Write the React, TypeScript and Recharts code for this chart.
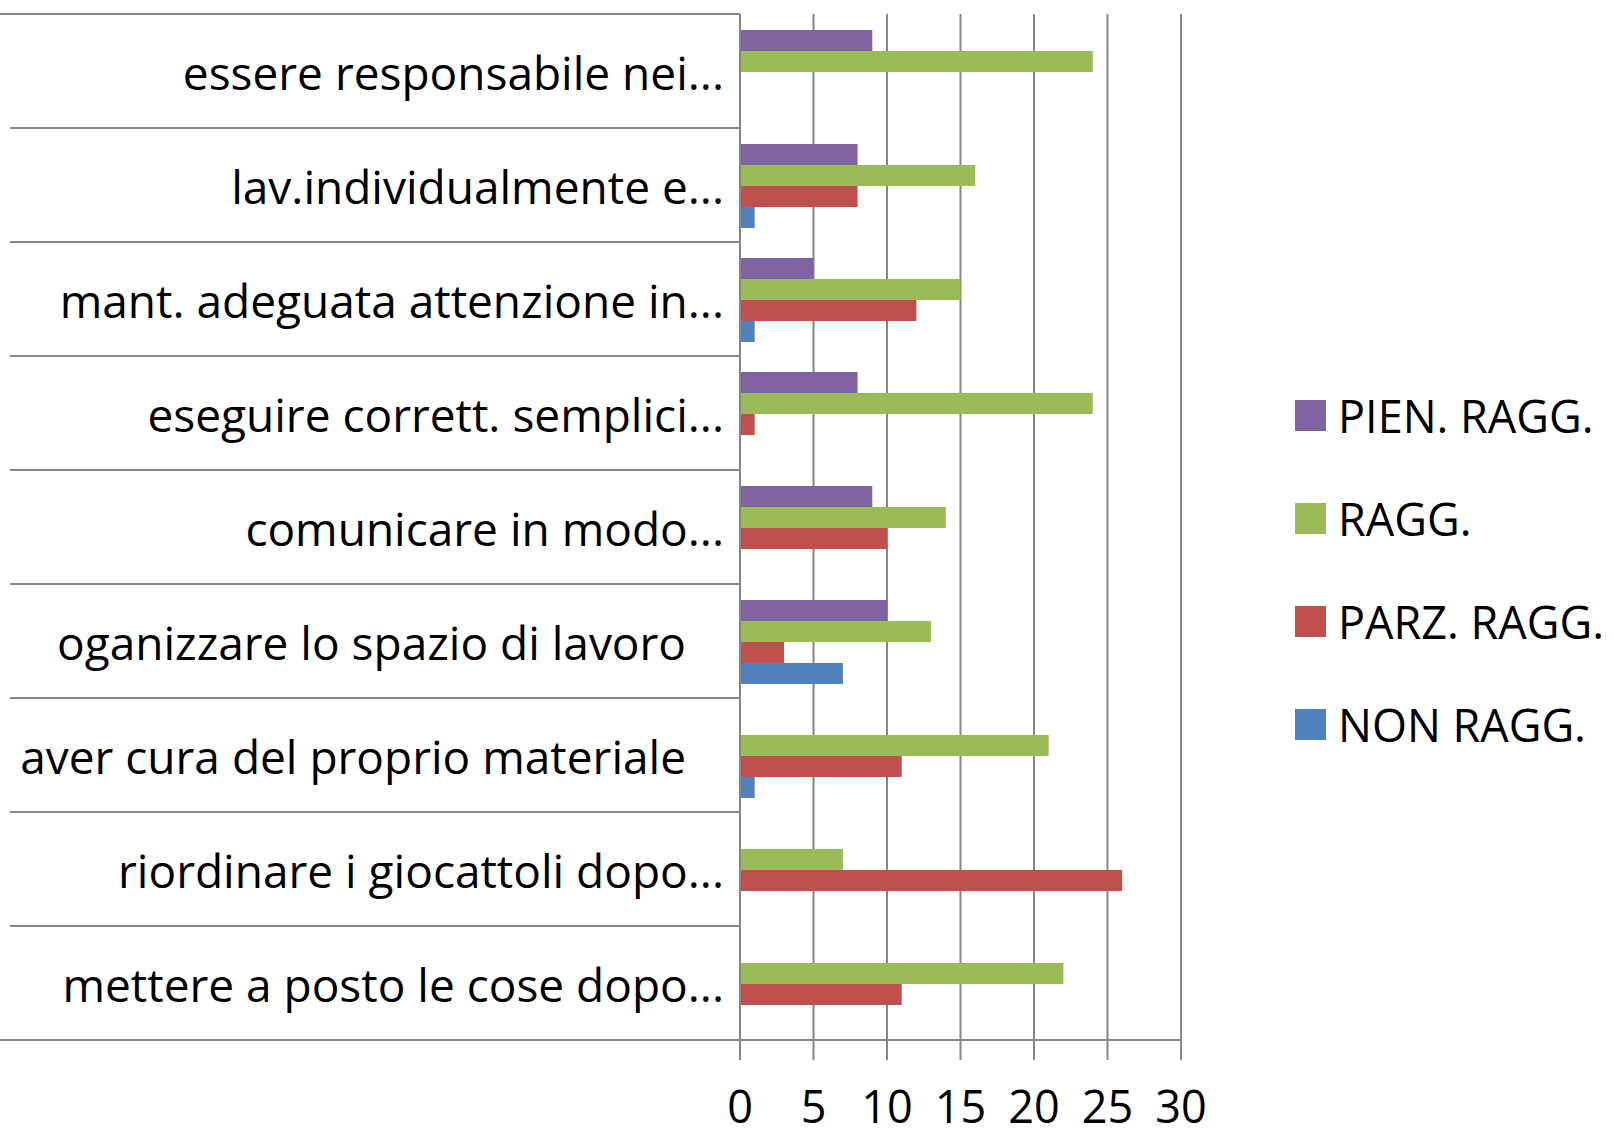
import React from 'react';
import { BarChart, Bar, XAxis, YAxis, CartesianGrid } from 'recharts';

const categories = [
    'essere responsabile nei...',
    'lav.individualmente e...',
    'mant. adeguata attenzione in...',
    'eseguire corrett. semplici...',
    'comunicare in modo...',
    'oganizzare lo spazio di lavoro',
    'aver cura del proprio materiale',
    'riordinare i giocattoli dopo...',
    'mettere a posto le cose dopo...',
];

const pienRagg = [9, 8, 5, 8, 9, 10, 0, 0, 0];
const ragg = [24, 16, 15, 24, 14, 13, 21, 7, 22];
const parzRagg = [0, 8, 12, 1, 10, 3, 11, 26, 11];
const nonRagg = [0, 1, 1, 0, 0, 7, 1, 0, 0];

const xTicks = [0, 5, 10, 15, 20, 25, 30];

const series = [
    { key: 'pien', name: 'PIEN. RAGG.', color: '#8064A2' },
    { key: 'ragg', name: 'RAGG.', color: '#9BBB59' },
    { key: 'parz', name: 'PARZ. RAGG.', color: '#C0504D' },
    { key: 'non', name: 'NON RAGG.', color: '#4F81BD' },
];

const data = categories.map((name, i) => ({
    name,
    pien: pienRagg[i],
    ragg: ragg[i],
    parz: parzRagg[i],
    non: nonRagg[i],
}));

const FONT = '"Open Sans", sans-serif';
const GRID = '#868686';

const CategoryTick = (props: any) => {
    const { x, y, payload, index } = props;
    const half = payload.offset ?? 57;
    const axisX = x + 16;
    const label: string = payload.value;
    const textX = label.endsWith('...') ? x : x - 38;
    const last = index === categories.length - 1;
    return (
        <g>
            <line x1={index === 0 ? 0 : 10} x2={axisX} y1={y - half} y2={y - half} stroke={GRID} strokeWidth={2} />
            {last && <line x1={0} x2={axisX} y1={y + half} y2={y + half} stroke={GRID} strokeWidth={2} />}
            <text x={textX} y={y} dy={19} textAnchor="end" fontFamily={FONT} fontSize={46} fill="#000">
                {label}
            </text>
        </g>
    );
};

const ValueTick = (props: any) => {
    const { x, y, payload } = props;
    return (
        <text x={x} y={y} dy={63} textAnchor="middle" fontFamily={FONT} fontSize={45} fill="#000">
            {payload.value}
        </text>
    );
};

// legend sits to the right of the plot, outside recharts' layout
const LegendBox = () => (
    <div style={{ position: 'absolute', left: 1295, top: 364, fontFamily: FONT, fontSize: 45, color: '#000' }}>
        {series.map((s) => (
            <div key={s.key} style={{ display: 'flex', alignItems: 'center', height: 103 }}>
                <div style={{ width: 31, height: 31, background: s.color, marginRight: 12 }} />
                <span style={{ whiteSpace: 'nowrap' }}>{s.name}</span>
            </div>
        ))}
    </div>
);

export default function App() {
    return (
        <div style={{ position: 'absolute', left: 0, top: 0, width: 1614, height: 1137, background: '#fff' }}>
            <BarChart
                width={1614}
                height={1137}
                data={data}
                layout="vertical"
                margin={{ top: 14, right: 433, left: 0, bottom: 0 }}
                barCategoryGap={16}
                barGap={0}
            >
                <CartesianGrid horizontal={false} stroke={GRID} strokeWidth={2} />
                <XAxis
                    type="number"
                    domain={[0, 30]}
                    ticks={xTicks}
                    height={97}
                    tickSize={20}
                    tickMargin={0}
                    tickLine={{ stroke: GRID, strokeWidth: 2 }}
                    axisLine={{ stroke: GRID, strokeWidth: 2 }}
                    tick={<ValueTick />}
                    interval={0}
                />
                <YAxis
                    type="category"
                    dataKey="name"
                    width={740}
                    tickSize={0}
                    tickMargin={16}
                    tickLine={false}
                    axisLine={{ stroke: GRID, strokeWidth: 2 }}
                    tick={<CategoryTick />}
                    interval={0}
                />
                {series.map((s) => (
                    <Bar key={s.key} dataKey={s.key} name={s.name} fill={s.color} isAnimationActive={false} />
                ))}
            </BarChart>
            <LegendBox />
        </div>
    );
}
